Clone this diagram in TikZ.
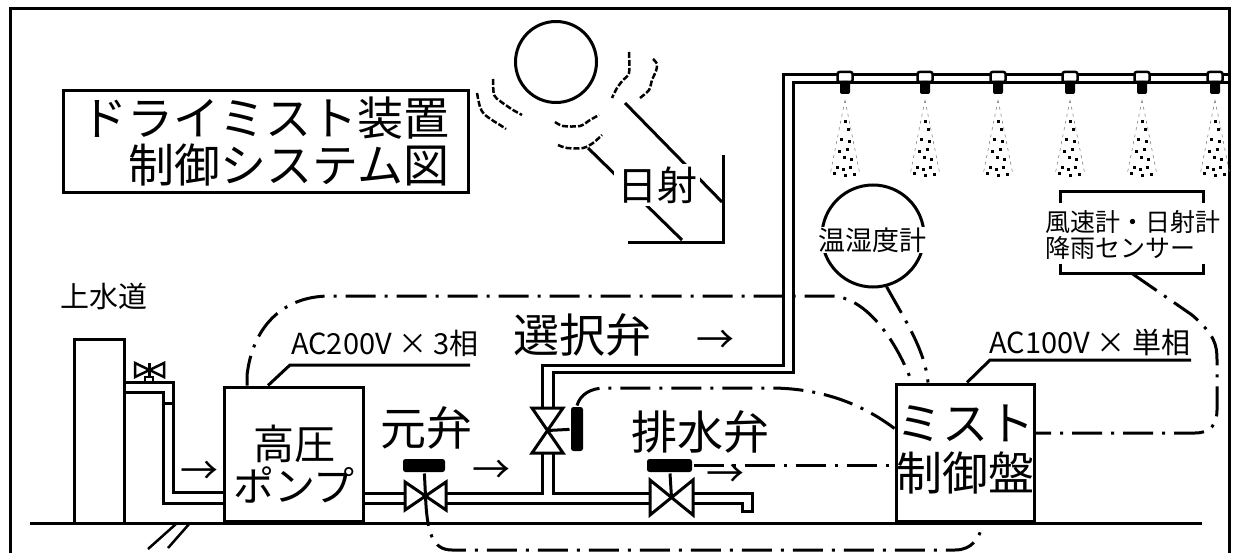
\documentclass[tikz,border=0pt]{standalone}
\usepackage{fontspec}
\setmainfont{Noto Sans CJK JP}
\usepackage{tikz}
\usetikzlibrary{
  arrows.meta,   % 箭头样式
  positioning    % 节点相对定位
}

\begin{document}
\begin{tikzpicture}[x=1pt, y=-1pt, line width=3pt,
  box/.style={draw, line width=3pt, inner sep=0pt},
  ctrl/.style={line width=3pt, dash pattern=on 30pt off 9pt on 3pt off 9pt},
  shimmer/.style={line width=2.5pt, dash pattern=on 6pt off 2pt},
  spray/.style={line width=0.6pt, gray, dash pattern=on 3pt off 4pt},
  actuator/.style={fill=black, rounded corners=2.5pt, inner sep=0pt},
  bigtext/.style={font=\fontsize{46}{50}\selectfont},
  actext/.style={font=\fontsize{29}{29}\selectfont},
  arrowtext/.style={font=\fontsize{38}{38}\selectfont, inner sep=0pt}]
  \useasboundingbox (0,0) rectangle (1233,553);

  % 外框（底边不画）
  \draw (10,553) -- (10,9) -- (1229,9) -- (1229,553);

  % 1. 标题框
  \node[box, minimum width=405pt, minimum height=102pt, align=right,
        font=\fontsize{46}{47}\selectfont] (title) at (265.5,142)
        {ドライミスト装置\\制御システム図};

  % 2. 太阳、热气与日射
  \node[draw, circle, minimum size=81pt, inner sep=0pt] (sun) at (556,62) {};
  \draw[shimmer] plot[smooth] coordinates {(493,79) (494,95) (500,101) (507,106) (513,110) (522,115)};
  \draw[shimmer] plot[smooth] coordinates {(477,93) (480,107) (484,114) (492,120) (500,125) (506,129)};
  \draw[shimmer] plot[smooth] coordinates {(555,122) (563,126) (580,126) (590,120) (599,115)};
  \draw[shimmer] plot[smooth] coordinates {(558,145) (567,148) (583,148) (593,143) (602,135)};
  \draw[shimmer] plot[smooth] coordinates {(629,52) (629,73) (623,80) (617,88) (612,98)};
  \draw[shimmer] plot[smooth] coordinates {(653,59) (657,64) (656,71) (652,80) (649,90) (640,98)};
  \draw (625,103) -- (722,202);
  \draw (588,148) -- (682,240);
  \draw (628,243) -- (723,243) -- (723,155);
  \node[fill=white, inner sep=3pt, font=\fontsize{40}{40}\selectfont] (sunlabel) at (657,185) {日射};

  % 3. 喷雾管道（双线）与喷嘴
  \draw (542,408) -- (542,365) -- (783,365) -- (783,75) -- (1229,75);
  \draw (553,408) -- (553,372) -- (793,372) -- (793,83) -- (1229,83);
  \foreach \nx in {845,925,998,1070,1142,1215} {
    \draw[line width=2.5pt, fill=white, rounded corners=2pt] (\nx-7.5,72) rectangle (\nx+7.5,82);
    \fill[rounded corners=2pt] (\nx-5,81) rectangle (\nx+5,94);
    % 雾锥
    \draw[spray] (\nx,100) -- (\nx-15,175) (\nx,100) -- (\nx+15,175);
    \foreach \dx/\dy in {0/122, 3/130, -4/140, 4/142, -6/152, 2/150, -1/158, 6/160,
                         -8/168, -2/170, 5/168, -11/174, 0/176, 9/175}
      \fill (\nx+\dx-1.5,\dy-1.5) rectangle ++(3,3);
  }

  % 4. 温湿度计、风速计等传感器
  \node[draw, circle, minimum size=102pt, inner sep=0pt] (thermo) at (873,236) {};
  \node[fill=white, inner sep=1pt, font=\fontsize{27}{27}\selectfont] (thermotext) at (872,240) {温湿度計};

  \node[minimum width=140pt, minimum height=79pt, inner sep=0pt] (sframe) at (1132,232.5) {};
  \draw ([yshift=-12pt]sframe.north west) -- (sframe.north west) -- (sframe.north east) -- ([yshift=-12pt]sframe.north east);
  \draw ([yshift=10pt]sframe.south west) -- (sframe.south west) -- (sframe.south east) -- ([yshift=10pt]sframe.south east);
  \node[align=left, inner sep=0pt, font=\fontsize{25}{26}\selectfont] (sensor) at (1133,235) {風速計・日射計\\降雨センサー};

  % 5. 地面、上水道、高压泵、控制盘
  \draw (30,523) -- (1202,523);
  \draw[line width=2.5pt] (148,549) -- (176,524) (168,548) -- (190,523);

  \node[box, minimum width=50pt, minimum height=184pt] (tank) at (99,431) {};
  \node[font=\fontsize{29}{29}\selectfont] (tanklabel) at (104,296) {上水道};
  % 水龙头阀门
  \draw[line width=2.5pt] (135,363) -- (135,377) -- (164,363) -- (164,377) -- cycle;
  \draw[line width=2.5pt] (149.5,363) -- (149.5,377) (145,377) rectangle (153,382);

  \node[box, minimum width=139pt, minimum height=134pt] (pump) at (293.5,454) {};
  \node[font=\fontsize{41}{42}\selectfont, align=center] (pumptext) at (294,464) {高圧\\ポンプ};

  \node[box, minimum width=138pt, minimum height=137pt] (panel) at (965,452.5) {};
  \node[bigtext, align=center] (paneltext) at (965,450) {ミスト\\制御盤};

  % 6. 给水管道
  \draw (124,382) -- (173,382) -- (173,492) -- (224,492);
  \draw (124,392) -- (163,392) -- (163,503) -- (224,503);
  \draw (163,403) -- (173,403);
  \draw (363,493) -- (405,493);
  \draw (363,503) -- (405,503);
  \draw (446,493) -- (542,493) -- (542,453);
  \draw (446,503) -- (650,503);
  \draw (553,453) -- (553,493) -- (650,493);
  \draw (693,493) -- (752,493) -- (752,511) -- (742,511) -- (742,503) -- (693,503);

  % 7. 阀门：元弁、选择阀、排水阀
  \coordinate (mainv) at (425.5,496);
  \draw (mainv) ++(-20.5,-14) -- ++(0,28) -- ++(41,-28) -- ++(0,28) -- cycle;
  \node[actuator, minimum width=42pt, minimum height=13pt] (mainact) at (424,465.5) {};
  \draw (mainact) -- (mainv);

  \coordinate (selv) at (547.5,430.5);
  \draw (selv) ++(-15.5,-22.5) -- ++(31,0) -- ++(-31,45) -- ++(31,0) -- cycle;
  \node[actuator, minimum width=12pt, minimum height=44pt] (selact) at (577,429) {};
  \draw (selv) -- (selact);

  \coordinate (drainv) at (671.5,497.5);
  \draw (drainv) ++(-21.5,-17.5) -- ++(0,35) -- ++(43,-35) -- ++(0,35) -- cycle;
  \node[actuator, minimum width=45pt, minimum height=13pt] (drainact) at (669.5,465.5) {};
  \draw (drainact) -- (drainv);

  % 阀门名称与流向
  \node[bigtext] (mainlabel) at (426,428) {元弁};
  \node[bigtext] (sellabel) at (582,335) {選択弁};
  \node[bigtext] (drainlabel) at (700,432) {排水弁};
  \node[arrowtext] (arrin) at (199,473) {→};
  \node[arrowtext] (arrmain) at (491,472) {→};
  \node[arrowtext] (arrsel) at (715,342) {→};
  \node[arrowtext] (arrdrain) at (725,476) {→};

  % 8. 电源标注
  \node[actext] (ac200) at (385,343) {AC200V × 3相};
  \draw (470,365) -- (290,365) -- ([xshift=-25.5pt]pump.north);
  \node[actext] (ac100) at (1090,342) {AC100V × 単相};
  \draw (1191,360) -- (990,360) -- ([xshift=2pt]panel.north);

  % 9. 控制信号线（点划线）
  \draw[ctrl] ([xshift=-46.5pt]pump.north) -- ++(0,-10)
    .. controls (252,330) and (280,296) .. (330,296) -- (830,296)
    .. controls (868,296) and (898,345) .. ([xshift=-53pt]panel.north);
  \draw[ctrl] (thermo.-75) .. controls (905,320) and (925,350) .. ([xshift=-37pt]panel.north);
  \draw[ctrl] (selact.north) .. controls (580,395) and (590,388) .. (605,388) -- (770,388)
    .. controls (830,388) and (870,410) .. ([yshift=24pt]panel.west);
  \draw[ctrl] (drainact.east) -- (panel.west |- drainact.east);
  \draw[ctrl] (mainv) .. controls (427,532) and (432,550) .. (452,550) -- (955,550)
    .. controls (972,550) and (980,538) .. ([xshift=18pt]panel.south);
  \coordinate (sbend) at (1195,433);
  \draw[ctrl] (sframe.south) -- (1192,315) .. controls (1215,335) and (1217,345) .. (1217,360)
    -- (1217,410) .. controls (1217,425) and (1210,433) .. (sbend) -- (panel.east |- sbend);
\end{tikzpicture}
\end{document}
